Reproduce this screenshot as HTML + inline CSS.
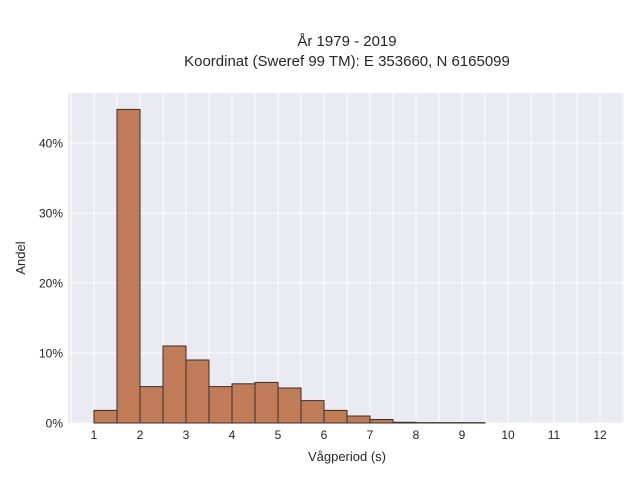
<!DOCTYPE html>
<html><head><meta charset="utf-8"><style>
body{margin:0;background:#fff;}
svg{display:block;font-family:"Liberation Sans",sans-serif;}
</style></head><body>
<svg id="chart" width="640" height="480">
<text x="347" y="46" text-anchor="middle" font-size="15" fill="#262626">År 1979 - 2019</text>
<text x="347" y="66" text-anchor="middle" font-size="15" fill="#262626">Koordinat (Sweref 99 TM): E 353660, N 6165099</text>
<rect x="68" y="93" width="556" height="330" fill="#eaeaf2"/>
<g id="grid"></g><g id="bars"></g><g id="ticks"></g>
<text x="347" y="461" text-anchor="middle" font-size="13" fill="#262626">Vågperiod (s)</text>
<text transform="translate(25,258) rotate(-90)" text-anchor="middle" font-size="13" fill="#262626">Andel</text>
</svg>
<script>
const binStarts=[1,1.5,2,2.5,3,3.5,4,4.5,5,5.5,6,6.5,7,7.5,8,8.5,9];
const shares=[1.8,44.8,5.2,11.0,9.0,5.2,5.6,5.8,5.0,3.2,1.8,1.0,0.5,0.1,0.05,0.05,0.05];
const binWidth=0.5;
const xTicks=[1,2,3,4,5,6,7,8,9,10,11,12];
const yTicks=[0,10,20,30,40];
const xs=v=>94+(v-1)*46;
const ys=v=>423-v*7;
const NS="http://www.w3.org/2000/svg";
const grid=document.getElementById('grid'),bars=document.getElementById('bars'),ticks=document.getElementById('ticks');
for(let g=0.5;g<=12.5;g+=0.5){const l=document.createElementNS(NS,'line');


l.setAttribute('x1',xs(g));l.setAttribute('x2',xs(g));l.setAttribute('y1',93);l.setAttribute('y2',423);l.setAttribute('stroke','#fff');l.setAttribute('stroke-width','1');grid.appendChild(l);}
yTicks.forEach(v=>{const l=document.createElementNS(NS,'line');


l.setAttribute('x1',68);l.setAttribute('x2',624);l.setAttribute('y1',ys(v));l.setAttribute('y2',ys(v));l.setAttribute('stroke','#fff');grid.appendChild(l);
const t=document.createElementNS(NS,'text');


t.setAttribute('x',63);t.setAttribute('y',ys(v)+4.5);t.setAttribute('text-anchor','end');t.setAttribute('font-size','12');t.setAttribute('fill','#262626');t.textContent=v+'%';ticks.appendChild(t);});
xTicks.forEach(v=>{const t=document.createElementNS(NS,'text');


t.setAttribute('x',xs(v));t.setAttribute('y',439);t.setAttribute('text-anchor','middle');t.setAttribute('font-size','12');t.setAttribute('fill','#262626');t.textContent=v;ticks.appendChild(t);});
binStarts.forEach((b,i)=>{const r=document.createElementNS(NS,'rect');


const y=ys(shares[i]);r.setAttribute('x',xs(b));r.setAttribute('width',xs(b+binWidth)-xs(b));r.setAttribute('y',y);r.setAttribute('height',423-y);r.setAttribute('fill','#c07c58');r.setAttribute('stroke','#3a2e28');r.setAttribute('stroke-width','1');bars.appendChild(r);});
</script>
</body></html>
